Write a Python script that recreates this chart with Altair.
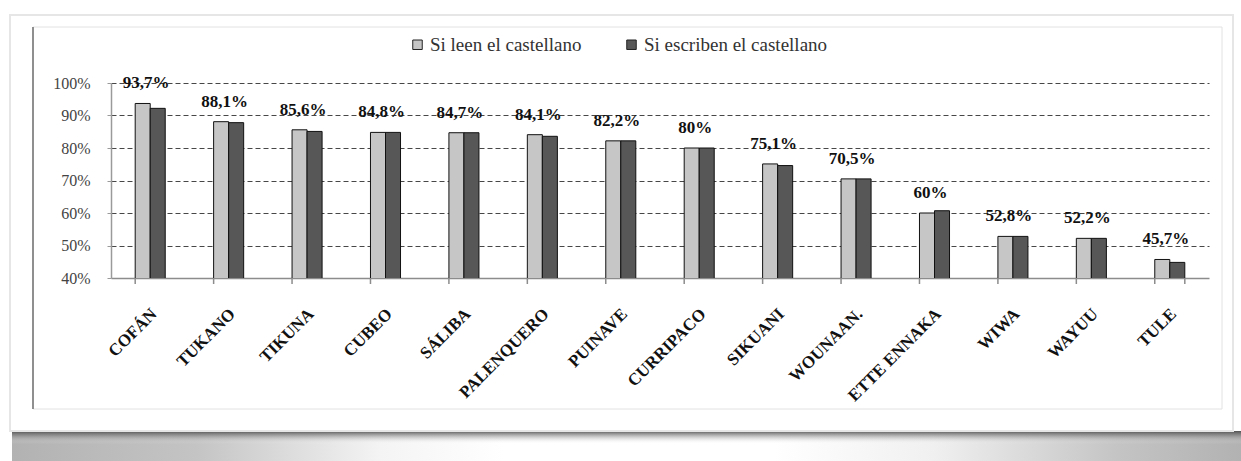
import altair as alt
import pandas as pd

# Pueblos indígenas y porcentaje que lee / escribe el castellano
grupos = ["COFÁN", "TUKANO", "TIKUNA", "CUBEO", "SÁLIBA", "PALENQUERO", "PUINAVE",
          "CURRIPACO", "SIKUANI", "WOUNAAN.", "ETTE ENNAKA", "WIWA", "WAYUU", "TULE"]
lee = [93.7, 88.1, 85.6, 84.8, 84.7, 84.1, 82.2, 80.0, 75.1, 70.5, 60.0, 52.8, 52.2, 45.7]
escriben = [92.2, 87.8, 85.1, 84.8, 84.7, 83.6, 82.2, 80.0, 74.6, 70.5, 60.7, 52.8, 52.2, 44.8]
series = ["Si leen el castellano", "Si escriben el castellano"]
colores = ["#c6c6c6", "#575757"]
marcas_y = [0.4, 0.5, 0.6, 0.7, 0.8, 0.9, 1.0]

SERIF = "Liberation Serif"
LEFT, TOP, W, H = 111, 83, 1098, 195
TOTAL_W, TOTAL_H = 1241, 461


def px(x):
    return x - LEFT


def py(y):
    return y - TOP


def etiqueta(v):
    s = f"{v:.1f}".replace(".", ",")
    if s.endswith(",0"):
        s = s[:-2]
    return s + "%"


largo = pd.DataFrame({
    "grupo": grupos * 2,
    "serie": [series[0]] * len(grupos) + [series[1]] * len(grupos),
    "valor": [v / 100 for v in lee] + [v / 100 for v in escriben],
})
resumen = pd.DataFrame({
    "grupo": grupos,
    "lee": [v / 100 for v in lee],
    "etiqueta": [etiqueta(v) for v in lee],
})
uno = pd.DataFrame({"k": [0]})

x_scale = alt.Scale(domain=grupos, paddingInner=0.617, paddingOuter=0.3085)
y_scale = alt.Scale(domain=[0.4, 1.0])

x_axis = alt.Axis(
    title=None, ticks=False, grid=False,
    domainColor="#8c8c8c", domainWidth=1.5,
    labelAngle=-45, labelAlign="right", labelBaseline="middle",
    labelPadding=33, labelOffset=4, labelOverlap=False,
    labelFont=SERIF, labelFontSize=17, labelFontWeight="bold", labelColor="#111111",
)
y_axis = alt.Axis(
    title=None, values=marcas_y, format=".0%", labelOverlap=False,
    grid=True, gridDash=[5, 3], gridColor="#474747", gridWidth=1,
    gridOpacity={"condition": {"test": "datum.value <= 0.401", "value": 0}, "value": 1},
    tickSize=4, tickColor="#9a9a9a", domainColor="#9a9a9a", domainWidth=1.5,
    labelPadding=17, labelFont=SERIF, labelFontSize=16, labelColor="#444444",
)

# Sombra bajo la hoja: degradado lateral y borde superior oscuro
sombra_lados = alt.Chart(uno).mark_rect(
    fill={
        "gradient": "linear", "x1": 0, "y1": 0, "x2": 1, "y2": 0,
        "stops": [
            {"offset": 0, "color": "#b2b2b2"},
            {"offset": 0.15, "color": "#c4c4c4"},
            {"offset": 0.3, "color": "#f4f4f4"},
            {"offset": 0.4, "color": "#ffffff"},
            {"offset": 0.62, "color": "#ffffff"},
            {"offset": 0.75, "color": "#f0f0f0"},
            {"offset": 0.9, "color": "#c4c4c4"},
            {"offset": 1, "color": "#b2b2b2"},
        ],
    }
).encode(
    x=alt.value(px(12)), x2=alt.value(px(TOTAL_W)),
    y=alt.value(py(431)), y2=alt.value(py(TOTAL_H)),
)
sombra_borde = alt.Chart(uno).mark_rect(
    fill={
        "gradient": "linear", "x1": 0, "y1": 0, "x2": 0, "y2": 1,
        "stops": [
            {"offset": 0, "color": "rgba(70,70,70,0.9)"},
            {"offset": 0.35, "color": "rgba(110,110,110,0.5)"},
            {"offset": 1, "color": "rgba(255,255,255,0)"},
        ],
    }
).encode(
    x=alt.value(px(12)), x2=alt.value(px(TOTAL_W)),
    y=alt.value(py(431)), y2=alt.value(py(444)),
)

# Hoja y recuadro del gráfico
hoja = alt.Chart(uno).mark_rect(fill="transparent", stroke="#e6e6e6", strokeWidth=2).encode(
    x=alt.value(px(10)), x2=alt.value(px(1233)),
    y=alt.value(py(15)), y2=alt.value(py(431)),
)
recuadro = alt.Chart(uno).mark_rect(fill="transparent", stroke="#e2e2e2", strokeWidth=1).encode(
    x=alt.value(px(33)), x2=alt.value(px(1222)),
    y=alt.value(py(27)), y2=alt.value(py(409)),
)
borde_izq = alt.Chart(uno).mark_rule(color="#8f8f8f", strokeWidth=2).encode(
    x=alt.value(px(33)), y=alt.value(py(27)), y2=alt.value(py(409)),
)

barras = alt.Chart(largo).mark_bar(clip=True, stroke="#111111", strokeWidth=1).encode(
    x=alt.X("grupo:N", sort=grupos, scale=x_scale, axis=x_axis),
    xOffset=alt.XOffset("serie:N", sort=series),
    y=alt.Y("valor:Q", scale=y_scale, axis=y_axis),
    color=alt.Color(
        "serie:N", sort=series,
        scale=alt.Scale(domain=series, range=colores),
        legend=alt.Legend(
            title=None, orient="none", direction="horizontal",
            legendX=297, legendY=-48, padding=0,
            symbolType="square", symbolSize=90,
            symbolStrokeColor="#222222", symbolStrokeWidth=1,
            labelFont=SERIF, labelFontSize=19, labelColor="#333333",
            labelOffset=3, columnPadding=40, labelLimit=0,
        ),
    ),
)

etiquetas = alt.Chart(resumen).mark_text(
    font=SERIF, fontSize=17, fontWeight="bold", color="#111111",
    baseline="middle", dy=-20, dx=-4,
).encode(
    x=alt.X("grupo:N", sort=grupos, scale=x_scale, axis=x_axis),
    y=alt.Y("lee:Q", scale=y_scale, axis=y_axis),
    text="etiqueta:N",
)

# Marcas del eje x en los límites de cada categoría
marcas_x = alt.Chart(resumen).mark_rule(color="#8c8c8c", strokeWidth=1.5).encode(
    x=alt.X("grupo:N", sort=grupos, scale=x_scale, axis=x_axis, bandPosition=0),
    y=alt.value(H), y2=alt.value(H + 6),
)
marca_final = alt.Chart(resumen).transform_filter(
    alt.datum.grupo == grupos[-1]
).mark_rule(color="#8c8c8c", strokeWidth=1.5).encode(
    x=alt.X("grupo:N", sort=grupos, scale=x_scale, axis=x_axis, bandPosition=1),
    y=alt.value(H), y2=alt.value(H + 6),
)

chart = alt.layer(
    sombra_lados, sombra_borde, hoja, recuadro, borde_izq,
    barras, etiquetas, marcas_x, marca_final
).properties(
    width=W, height=H,
    padding={"left": LEFT, "top": TOP, "right": TOTAL_W - LEFT - W, "bottom": TOTAL_H - TOP - H},
    autosize=alt.AutoSizeParams(type="none"),
    background="white",
).configure(
    font=SERIF,
).configure_view(stroke=None)

chart.save("out.html", embed_options={"renderer": "svg", "actions": False})
